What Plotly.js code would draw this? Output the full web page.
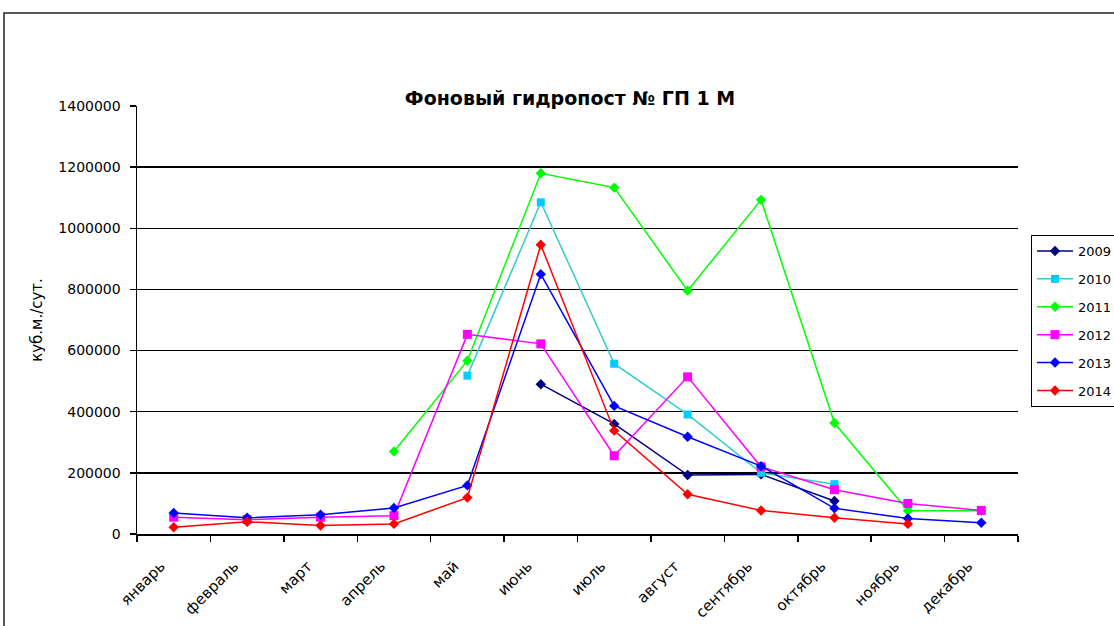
<!DOCTYPE html>
<html>
<head>
<meta charset="utf-8">
<script src="https://cdn.plot.ly/plotly-3.0.1.min.js"></script>
<style>
html,body{margin:0;padding:0;background:#fff;overflow:hidden;}
#chart{width:1114px;height:626px;}
</style>
</head>
<body>
<div id="chart"></div>
<script>
const months = ['январь','февраль','март','апрель','май','июнь','июль','август','сентябрь','октябрь','ноябрь','декабрь'];
const years = ['2009','2010','2011','2012','2013','2014'];
const y2009 = [null,null,null,null,null,490000,360000,193000,195000,108000,null,null];
const y2010 = [null,null,null,null,518000,1085000,557000,391000,200000,163000,null,null];
const y2011 = [null,null,null,270000,567000,1180000,1133000,796000,1093000,363000,76000,76000];
const y2012 = [55000,47000,55000,60000,653000,622000,256000,514000,220000,145000,100000,77000];
const y2013 = [69000,53000,63000,85000,159000,850000,419000,318000,222000,84000,51000,37000];
const y2014 = [22000,40000,28000,33000,119000,946000,338000,130000,77000,53000,33000,null];
const yTicks = [0,200000,400000,600000,800000,1000000,1200000,1400000];
const gridVals = [200000,400000,600000,800000,1000000,1200000];

const series = [y2009,y2010,y2011,y2012,y2013,y2014];
const lineColors = ['#000080','#33CCCC','#00FF00','#FF00FF','#0000FF','#FF0000'];
const markerColors = ['#000080','#00CCFF','#00FF00','#FF00FF','#0000FF','#FF0000'];
const symbols = ['diamond','square','diamond','square','diamond','diamond'];
const sizes = [8,8,8,9,8,8];

const traces = series.map((vals,i)=>({
  type:'scatter', mode:'lines+markers', name:years[i], x:months, y:vals,
  legendgroup:'g'+i,
  line:{color:lineColors[i], width:1.5},
  marker:{color:markerColors[i], symbol:symbols[i], size:sizes[i], line:{width:0}},
  connectgaps:false, yaxis:'y'
}));

const L = 137, R = 1018, T = 106, B = 534;
const pw = R - L, ph = B - T;
const FONT = 'DejaVu Sans, Liberation Sans, Arial, sans-serif';

const layout = {
  width:1114, height:626,
  margin:{l:L, r:1114-R, t:T, b:626-B, pad:0, autoexpand:false},
  paper_bgcolor:'#fff', plot_bgcolor:'#fff',
  font:{family:FONT, color:'#000', size:14},
  title:{text:'<b>Фоновый гидропост № ГП 1 М</b>', x:570/1114, xref:'container', xanchor:'center',
         y:1-98/626, yref:'container', yanchor:'middle', font:{size:19, color:'#000', family:FONT}},
  xaxis:{type:'category', range:[-0.5,11.5], showgrid:false, showline:true, linecolor:'#000', linewidth:1.5,
         ticks:'outside', tickson:'boundaries', ticklen:6, tickwidth:1.5, tickcolor:'#000',
         tickangle:-45, tickfont:{size:15}, ticklabelstandoff:16, ticklabelshift:-13,
         zeroline:false, fixedrange:true, automargin:false},
  yaxis:{range:[0,1400000], tickvals:yTicks, ticktext:yTicks.map(String), showgrid:false, showline:true,
         linecolor:'#000', linewidth:1.5, ticks:'outside', ticklen:6, tickwidth:1.5, tickcolor:'#000',
         zeroline:false, tickfont:{size:14}, ticklabelstandoff:6, automargin:false,
         title:{text:'куб.м./сут.', font:{size:15}, standoff:12}},
  yaxis2:{range:[0,1400000], overlaying:'y', tickvals:gridVals, showgrid:true, gridcolor:'#000', gridwidth:1.5,
          showticklabels:false, ticks:'', showline:false, zeroline:false},
  legend:{xref:'container', yref:'container', x:1031/1114, xanchor:'left', y:1-235/626, yanchor:'top',
          bgcolor:'#fff', bordercolor:'#000', borderwidth:1, itemwidth:36,
          font:{size:13}, tracegroupgap:8, traceorder:'grouped'},
  shapes:[{type:'rect', xref:'paper', yref:'paper', x0:(4-L)/pw, x1:1.3, y0:-0.5, y1:(B-13)/ph,
           line:{color:'#222', width:1.5}, fillcolor:'rgba(0,0,0,0)', layer:'below'}],
  showlegend:true
};
traces.unshift({type:'scatter', x:[months[0]], y:[null], yaxis:'y2', showlegend:false, hoverinfo:'skip'});

Plotly.newPlot('chart', traces, layout, {displayModeBar:false, staticPlot:true});
</script>
</body>
</html>
